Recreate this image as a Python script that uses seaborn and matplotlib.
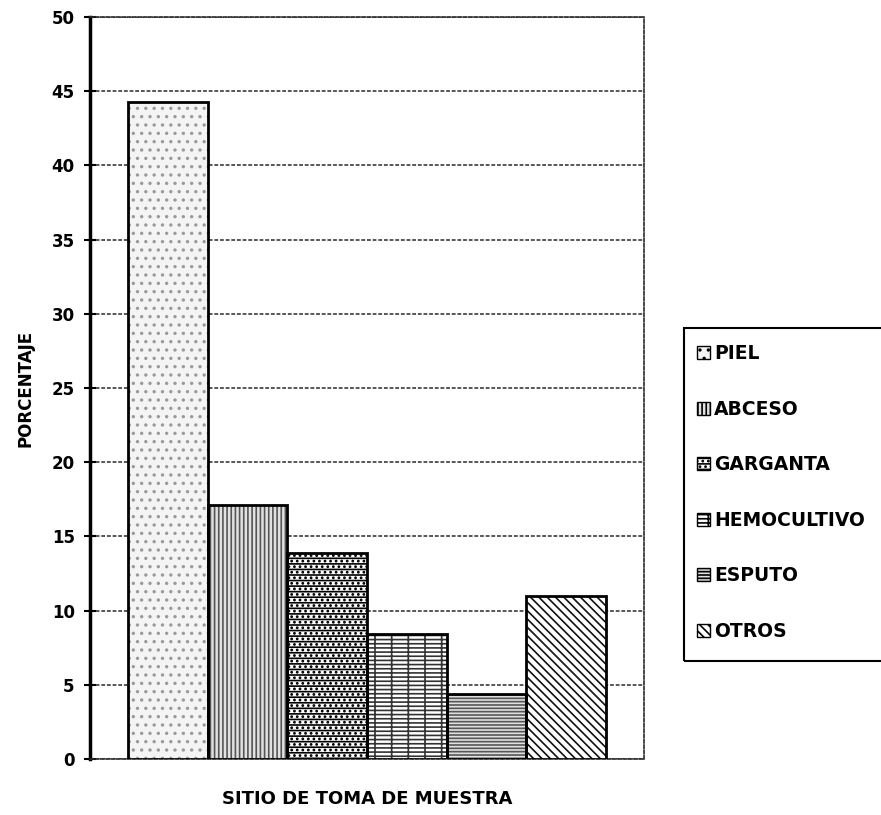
import matplotlib
matplotlib.use("Agg")
import matplotlib.pyplot as plt
from matplotlib.patches import Patch, Rectangle
import pandas as pd
import seaborn as sns

# Sampling sites and share of isolates (%)
sitios = ["PIEL", "ABCESO", "GARGANTA", "HEMOCULTIVO", "ESPUTO", "OTROS"]
porcentaje = [44.3, 17.1, 13.9, 8.4, 4.4, 11.0]
y_ticks = [0, 5, 10, 15, 20, 25, 30, 35, 40, 45, 50]

# Fill style per site: face colour, hatch pattern and hatch ink
caras = ["#f4f4f4", "#e2e2e2", "#ffffff", "#ffffff", "#e0e0e0", "#ffffff"]
tramas = ["..", "||||", "---...", "---+", "-----", "\\\\\\\\"]
tintas = ["#9a9a9a", "#555555", "#000000", "#333333", "#555555", "#111111"]

df = pd.DataFrame({"grupo": [""] * len(sitios), "sitio": sitios, "pct": porcentaje})

sns.set_theme(style="white")
plt.rcParams["font.family"] = ["DejaVu Sans"]
plt.rcParams["font.weight"] = "bold"
plt.rcParams["text.color"] = "black"
plt.rcParams["axes.labelcolor"] = "black"
plt.rcParams["ytick.color"] = "black"
plt.rcParams["hatch.linewidth"] = 1.2

fig = plt.figure(figsize=(8.81, 8.15), dpi=100)
ax = fig.add_axes([90 / 881, 1 - 759 / 815, (644 - 90) / 881, (759 - 17) / 815])

sns.barplot(data=df, x="grupo", y="pct", hue="sitio", hue_order=sitios,
            palette=dict(zip(sitios, caras)), width=0.863, gap=0,
            dodge=True, legend=False, ax=ax, zorder=3)

for cont, cara, trama, tinta in zip(ax.containers, caras, tramas, tintas):
    for barra in cont:
        barra.set_facecolor(cara)
        barra.set_edgecolor(tinta)
        barra.set_linewidth(0)
        barra.set_hatch(trama)
        # black outline over the hatched fill
        ax.add_patch(Rectangle(barra.get_xy(), barra.get_width(), barra.get_height(),
                               fill=False, edgecolor="black", linewidth=2.0, zorder=4))

ax.set_xlim(-0.5, 0.5)
ax.set_ylim(0, 50)
ax.set_yticks(y_ticks)
ax.set_yticklabels([str(t) for t in y_ticks], fontsize=12, fontweight="bold")
ax.tick_params(axis="y", direction="inout", length=8, width=1.5, color="black",
               labelcolor="black", left=True, pad=7)
ax.tick_params(axis="x", bottom=False, labelbottom=False)

ax.yaxis.grid(True, color="#2a2a2a", linestyle=(0, (2.5, 1.2)), linewidth=1.1, zorder=0)
ax.set_axisbelow(True)

ax.spines["left"].set_linewidth(2.5)
ax.spines["left"].set_color("black")
for lado in ("top", "right", "bottom"):
    ax.spines[lado].set_linestyle((0, (2, 1.2)))
    ax.spines[lado].set_linewidth(1.2)
    ax.spines[lado].set_color("#2a2a2a")

ax.set_ylabel("PORCENTAJE", fontsize=12, fontweight="bold", labelpad=12, color="black")
ax.set_xlabel("SITIO DE TOMA DE MUESTRA", fontsize=13, fontweight="bold", labelpad=22,
              color="black")

# Legend box, running past the right edge of the figure
fig.patches.append(Rectangle((684 / 881, 1 - 661 / 815), 0.3, (661 - 328) / 815,
                             transform=fig.transFigure, fill=False,
                             edgecolor="black", linewidth=1.5))

manejadores = [Patch(facecolor=c, edgecolor="black", hatch=h, linewidth=1.0)
               for c, h in zip(caras, tramas)]
fig.legend(manejadores, sitios, loc="center left",
           bbox_to_anchor=(697 / 881, 1 - 492.5 / 815), frameon=False,
           prop={"size": 13.5, "weight": "bold"}, handlelength=0.7,
           handleheight=0.7, handletextpad=0.2, labelspacing=1.95,
           borderpad=0, borderaxespad=0, labelcolor="black")

fig.savefig("out.png", dpi=100)
